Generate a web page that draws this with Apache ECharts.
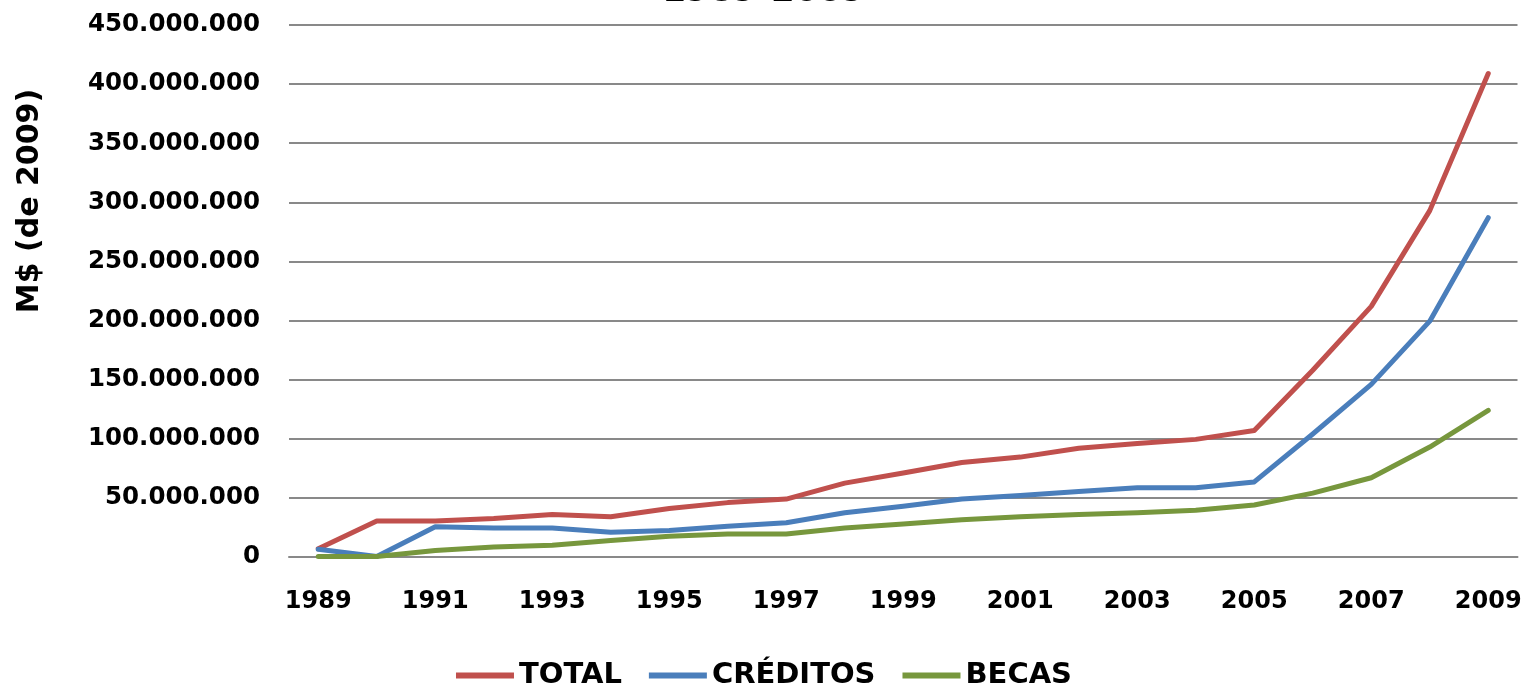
<!DOCTYPE html>
<html><head><meta charset="utf-8">
<script src="https://cdn.jsdelivr.net/npm/echarts@6/dist/echarts.min.js"></script>
<style>html,body{margin:0;padding:0;background:#fff}#c{width:1528px;height:685px}</style>
</head><body><div id="c"></div>
<script>
const years = ['1989','1990','1991','1992','1993','1994','1995','1996','1997','1998','1999','2000','2001','2002','2003','2004','2005','2006','2007','2008','2009'];
const total    = [7, 30.5, 30.5, 32.5, 36, 34, 41, 46, 49, 62.5, 71, 80, 84.5, 92, 96, 99.5, 107, 158, 212, 293, 409];
const creditos = [6.5, 0.5, 25.5, 24.5, 24.5, 21, 22.5, 26, 29, 37.5, 43, 49, 52, 55.5, 58.5, 58.5, 63.5, 104, 146, 199.5, 287];
const becas    = [0.5, 0.5, 5.5, 8.5, 10, 14, 17.5, 19.5, 19.5, 24.5, 28, 31.5, 34, 36, 37.5, 39.5, 44, 54, 67, 93, 124];
const MILLION = 1000000;
const font = 'DejaVu Sans';
const fmt = v => String(Math.round(v)).replace(/\B(?=(\d{3})+(?!\d))/g, '.');
const chart = echarts.init(document.getElementById('c'));
const mk = (name, arr, color) => ({
  name, type: 'line', data: arr.map(v => v * MILLION), symbol: 'none',
  lineStyle: { color, width: 5, cap: 'round', join: 'round' }, itemStyle: { color }
});
chart.setOption({
  animation: false,
  title: { text: '1989-2009', left: 'center', top: -30,
    textStyle: { fontFamily: font, fontWeight: 'bold', fontSize: 34, color: '#000' } },
  grid: { left: 289, right: 10.5, top: 25, bottom: 128, containLabel: false },
  legend: { top: 656, left: 'center', icon: 'rect', itemWidth: 58, itemHeight: 6, itemGap: 27,
    textStyle: { fontFamily: font, fontWeight: 'bold', fontSize: 29, color: '#000', padding: [0,0,0,0] },
    data: ['TOTAL','CRÉDITOS','BECAS'] },
  xAxis: { type: 'category', data: years, boundaryGap: true,
    axisLine: { lineStyle: { color: '#898989', width: 2 } }, axisTick: { show: false },
    axisLabel: { interval: 1, margin: 33, fontFamily: font, fontWeight: 'bold', fontSize: 24, color: '#000' } },
  yAxis: { type: 'value', min: 0, max: 450 * MILLION, interval: 50 * MILLION,
    name: 'M$ (de 2009)', nameLocation: 'middle', nameGap: 244,
    nameTextStyle: { fontFamily: font, fontWeight: 'bold', fontSize: 30, color: '#000', padding: [0,0,0,180] },
    axisLine: { show: false }, axisTick: { show: false },
    splitLine: { lineStyle: { color: '#898989', width: 2 } },
    axisLabel: { margin: 29, formatter: fmt, fontFamily: font, fontWeight: 'bold', fontSize: 24.5, color: '#000' } },
  series: [ mk('TOTAL', total, '#C0504D'), mk('CRÉDITOS', creditos, '#4A7EBB'), mk('BECAS', becas, '#77973D') ]
});
</script></body></html>
